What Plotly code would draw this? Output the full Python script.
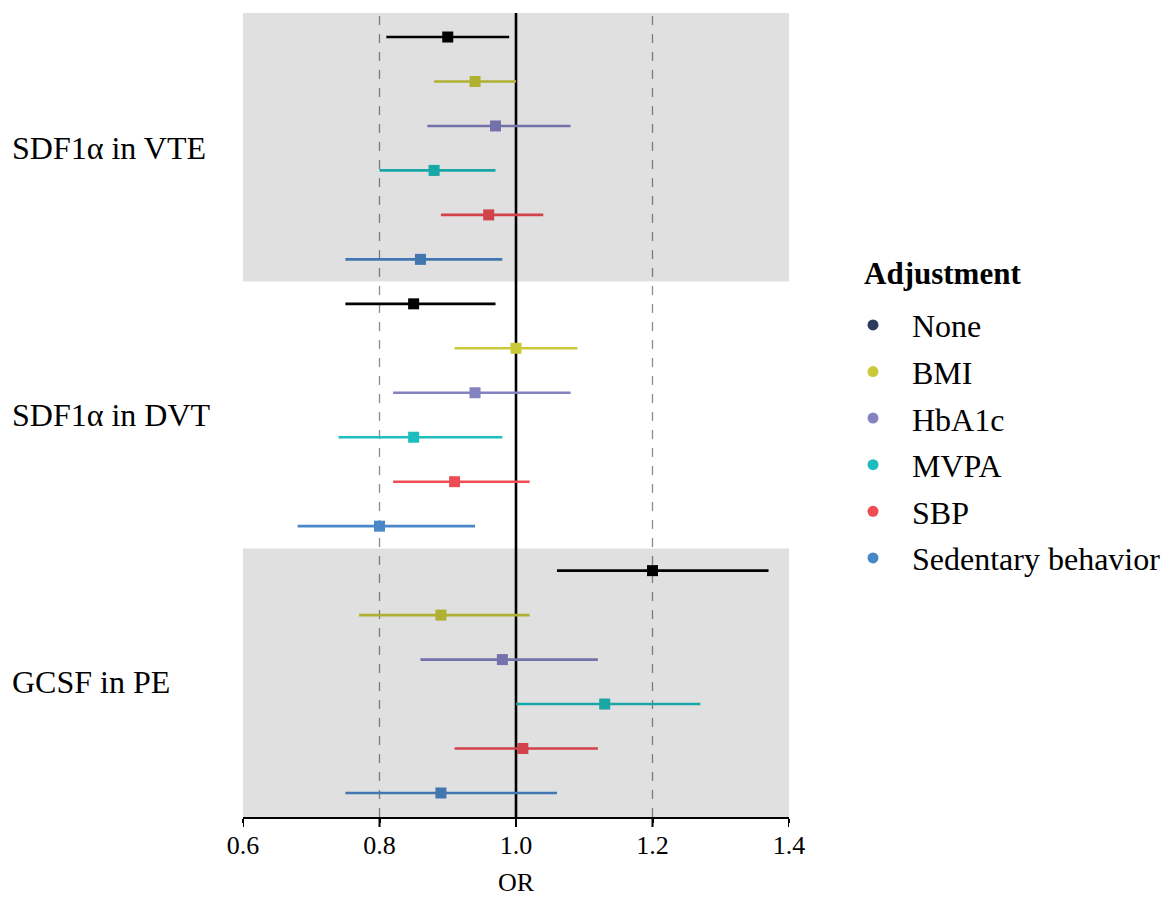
import plotly.graph_objects as go

# ---- data ----
groups = ["SDF1α in VTE", "SDF1α in DVT", "GCSF in PE"]
adjustments = ["None", "BMI", "HbA1c", "MVPA", "SBP", "Sedentary behavior"]

or_none = [0.90, 0.85, 1.20]
lo_none = [0.81, 0.75, 1.06]
hi_none = [0.99, 0.97, 1.37]

or_bmi = [0.94, 1.00, 0.89]
lo_bmi = [0.88, 0.91, 0.77]
hi_bmi = [1.00, 1.09, 1.02]

or_hba1c = [0.97, 0.94, 0.98]
lo_hba1c = [0.87, 0.82, 0.86]
hi_hba1c = [1.08, 1.08, 1.12]

or_mvpa = [0.88, 0.85, 1.13]
lo_mvpa = [0.80, 0.74, 1.00]
hi_mvpa = [0.97, 0.98, 1.27]

or_sbp = [0.96, 0.91, 1.01]
lo_sbp = [0.89, 0.82, 0.91]
hi_sbp = [1.04, 1.02, 1.12]

or_sed = [0.86, 0.80, 0.89]
lo_sed = [0.75, 0.68, 0.75]
hi_sed = [0.98, 0.94, 1.06]

x_ticks = [0.6, 0.8, 1.0, 1.2, 1.4]
ref_lines = [0.8, 1.2]
null_line = 1.0

# ---- styles ----
plot_colors = ["#000000", "#C9C93A", "#8582C2", "#1DBDBD", "#EE4C55", "#4A87C9"]
legend_colors = ["#2C3A5E", "#C9C93A", "#8582C2", "#1DBDBD", "#EE4C55", "#4A87C9"]
FONT = "Liberation Serif"

series = [
    (or_none, lo_none, hi_none),
    (or_bmi, lo_bmi, hi_bmi),
    (or_hba1c, lo_hba1c, hi_hba1c),
    (or_mvpa, lo_mvpa, hi_mvpa),
    (or_sbp, lo_sbp, hi_sbp),
    (or_sed, lo_sed, hi_sed),
]

n_adj = len(adjustments)
n_rows = len(groups) * n_adj
pad = 0.54
y_range = [n_rows - 1 + pad, -pad]

fig = go.Figure()

for a, (name, (est, lo, hi)) in enumerate(zip(adjustments, series)):
    ys = [g * n_adj + a for g in range(len(groups))]
    fig.add_trace(go.Scatter(
        x=est, y=ys, mode="markers",
        marker=dict(symbol="square", size=11, color=plot_colors[a]),
        error_x=dict(type="data", symmetric=False,
                     array=[h - e for h, e in zip(hi, est)],
                     arrayminus=[e - l for e, l in zip(est, lo)],
                     color=plot_colors[a], thickness=2.6, width=0),
        showlegend=False, name=name,
    ))

# legend entries
for a, name in enumerate(adjustments):
    fig.add_trace(go.Scatter(
        x=[None], y=[None], mode="markers", name=name,
        marker=dict(symbol="circle", size=11, color=legend_colors[a]),
        legendgroup=name, showlegend=True,
    ))

shapes = []
# reference lines (below data)
for xv in ref_lines:
    shapes.append(dict(type="line", xref="x", yref="paper", x0=xv, x1=xv, y0=0, y1=1,
                       line=dict(color="#8C8C8C", width=1.3, dash="dash"), layer="below"))
shapes.append(dict(type="line", xref="x", yref="paper", x0=null_line, x1=null_line, y0=0, y1=1,
                   line=dict(color="#000000", width=2.6), layer="below"))
# alternating grey bands (semi-transparent, above data)
for g in range(0, len(groups), 2):
    y0 = g * n_adj - 0.5
    y1 = g * n_adj + n_adj - 0.5
    if g == 0:
        y0 = y_range[1]
    if g == len(groups) - 1:
        y1 = y_range[0]
    shapes.append(dict(type="rect", xref="paper", yref="y", x0=0, x1=1, y0=y0, y1=y1,
                       fillcolor="rgba(0,0,0,0.12)", line=dict(width=0), layer="above"))
# longer x tick marks
for xv in x_ticks:
    shapes.append(dict(type="line", xref="x", yref="paper", x0=xv, x1=xv, y0=0, y1=-10 / 804,
                       line=dict(color="#000000", width=2), layer="above"))

annotations = []
for g, label in enumerate(groups):
    annotations.append(dict(text=label, xref="paper", yref="y", x=-0.4267,
                            y=g * n_adj + (n_adj - 1) / 2, xanchor="left", yanchor="middle",
                            showarrow=False, font=dict(family=FONT, size=32, color="#000000")))
annotations.append(dict(text="<b>Adjustment</b>", xref="paper", yref="paper",
                        x=1.1337, y=0.6766, xanchor="left", yanchor="middle", showarrow=False,
                        font=dict(family=FONT, size=31, color="#000000")))

fig.update_layout(
    width=1162, height=897,
    margin=dict(l=243, r=373, t=13, b=80, autoexpand=False),
    paper_bgcolor="white", plot_bgcolor="white",
    font=dict(family=FONT, color="#000000"),
    shapes=shapes, annotations=annotations,
    showlegend=True,
    legend=dict(x=1.0824, y=0.646, xanchor="left", yanchor="top",
                font=dict(family=FONT, size=32, color="#000000"),
                itemwidth=68, tracegroupgap=2, bgcolor="rgba(0,0,0,0)"),
    xaxis=dict(range=[0.6, 1.4], tickvals=x_ticks, tickformat=".1f",
               showgrid=False, zeroline=False, showline=True, linecolor="#000000", linewidth=2,
               ticks="outside", ticklen=4, tickwidth=2, tickcolor="#000000",
               tickfont=dict(family=FONT, size=26, color="#000000"),
               title=dict(text="OR", font=dict(family=FONT, size=26, color="#000000"), standoff=34)),
    yaxis=dict(range=y_range, visible=False, showgrid=False, zeroline=False),
)

# remove the default page margin so the figure fills the window exactly
fig.write_html("out.html",
               config={"displayModeBar": False},
               post_script="document.body.style.margin='0';document.body.style.overflow='hidden';")
